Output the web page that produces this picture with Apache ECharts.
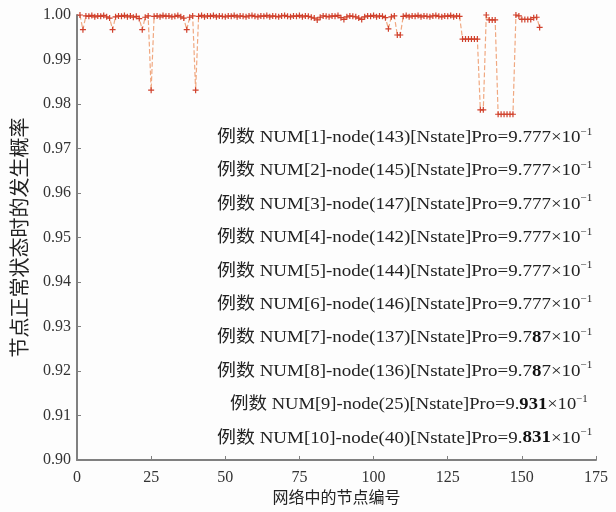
<!DOCTYPE html>
<html><head><meta charset="utf-8">
<script src="https://cdn.jsdelivr.net/npm/echarts@6/dist/echarts.min.js"></script>
<style>html,body{margin:0;padding:0;background:#fff}#c{width:616px;height:512px}</style>
</head><body><div id="c"></div>
<script>
// probability of normal state for nodes 1..156
const probValues = [
1.0000,0.9967,0.9998,0.9997,0.9999,0.9996,0.9998,0.9997,0.9999,0.9996,
0.9993,0.9967,0.9996,0.9998,0.9997,0.9999,0.9996,0.9998,0.9995,0.9997,
0.9992,0.9967,0.9995,0.9998,0.9831,0.9997,0.9998,0.9996,0.9999,0.9997,
0.9998,0.9996,0.9997,0.9999,0.9996,0.9993,0.9967,0.9995,0.9998,0.9831,
0.9997,0.9999,0.9996,0.9998,0.9997,0.9999,0.9996,0.9998,0.9997,0.9996,
0.9998,0.9997,0.9999,0.9996,0.9998,0.9997,0.9996,0.9998,0.9999,0.9997,
0.9996,0.9998,0.9997,0.9999,0.9996,0.9998,0.9997,0.9996,0.9998,0.9999,
0.9997,0.9996,0.9998,0.9997,0.9999,0.9996,0.9998,0.9997,0.9995,0.9993,
0.9989,0.9995,0.9998,0.9997,0.9996,0.9998,0.9997,0.9999,0.9994,0.9990,
0.9996,0.9998,0.9997,0.9996,0.9993,0.9990,0.9996,0.9998,0.9997,0.9999,
0.9996,0.9998,0.9997,0.9994,0.9969,0.9996,0.9998,0.9955,0.9955,0.9997,
0.9999,0.9996,0.9998,0.9997,0.9999,0.9996,0.9998,0.9997,0.9996,0.9998,
0.9999,0.9997,0.9996,0.9998,0.9997,0.9999,0.9996,0.9998,0.9997,0.9946,
0.9946,0.9946,0.9946,0.9946,0.9946,0.9787,0.9787,1.0000,0.9989,0.9989,
0.9989,0.9777,0.9777,0.9777,0.9777,0.9777,0.9777,1.0000,0.9998,0.9990,
0.9990,0.9990,0.9990,0.9994,0.9995,0.9972
];
const firstNode = 1;
const xTicks = [0, 25, 50, 75, 100, 125, 150, 175];
const yTickMin = 0.90, yTickMax = 1.00, yTickStep = 0.01;
const noteNums = [1,2,3,4,5,6,7,8,9,10];
const noteNodes = [143,145,147,142,144,146,137,136,25,40];
const notePro = ['9.777','9.777','9.777','9.777','9.777','9.777','9.787','9.787','9.931','9.831'];
const noteBold = [[],[],[],[],[],[],[3],[3],[2,3,4],[2,3,4]];

const seriesData = probValues.map((v, i) => [firstNode + i, v]);
const serif = "'Liberation Serif','Noto Sans CJK SC',serif";

function noteRich(k) {
  const p = notePro[k];
  let s = '{n|例数 NUM[' + noteNums[k] + ']-node(' + noteNodes[k] + ')[Nstate]Pro=}';
  for (let j = 0; j < p.length; j++) {
    s += (noteBold[k].indexOf(j) >= 0 ? '{b|' : '{n|') + p[j] + '}';
  }
  s += '{n|×10}{s|−1}';
  return s;
}
const noteX = [217,217,217,217,217,217,217,217,230,217];
const graphics = noteNums.map((n, k) => ({
  type: 'text', x: noteX[k], y: 127 + k * 33.4, scaleX: k === 8 ? 1.09 : 1.115,
  style: {
    text: noteRich(k),
    rich: {
      n: {fontFamily: serif, fontSize: 17, fill: '#222', lineHeight: 21},
      b: {fontFamily: serif, fontSize: 17, fontWeight: 'bold', fill: '#111', lineHeight: 21},
      s: {fontFamily: serif, fontSize: 10, fill: '#222', verticalAlign: 'top', lineHeight: 21}
    }
  }
}));

const chart = echarts.init(document.getElementById('c'));
chart.setOption({
  backgroundColor: '#fdfdfd',
  animation: false,
  grid: {left: 77, right: 20, top: 15, bottom: 48, containLabel: false},
  xAxis: {
    type: 'value', min: xTicks[0], max: xTicks[xTicks.length-1], interval: 25,
    name: '网络中的节点编号', nameLocation: 'middle', nameGap: 31,
    nameTextStyle: {fontFamily: serif, fontSize: 16, color: '#222'},
    axisLine: {lineStyle: {color: '#808080', width: 2}},
    axisTick: {inside: true, length: 4, lineStyle: {color: '#808080'}},
    axisLabel: {fontFamily: serif, fontSize: 16, color: '#333', margin: 10},
    splitLine: {show: false}
  },
  yAxis: {
    type: 'value', min: yTickMin, max: yTickMax, interval: yTickStep,
    name: '节点正常状态时的发生概率', nameLocation: 'middle', nameGap: 41,
    nameTextStyle: {fontFamily: serif, fontSize: 20, color: '#222'},
    axisLine: {show: true, lineStyle: {color: '#808080', width: 2}},
    axisTick: {show: true, inside: true, length: 4, lineStyle: {color: '#808080'}},
    axisLabel: {fontFamily: serif, fontSize: 16, color: '#333', margin: 6,
      formatter: v => v.toFixed(2)},
    splitLine: {show: false}
  },
  series: [{
    type: 'line', data: seriesData,
    lineStyle: {color: '#f0a880', width: 1.2, type: 'dashed'},
    symbol: 'path://M2,0H3V2H5V3H3V5H2V3H0V2H2Z', symbolSize: 6,
    itemStyle: {color: '#d0402c'},
    showSymbol: true
  }],
  graphic: graphics
});
</script></body></html>
